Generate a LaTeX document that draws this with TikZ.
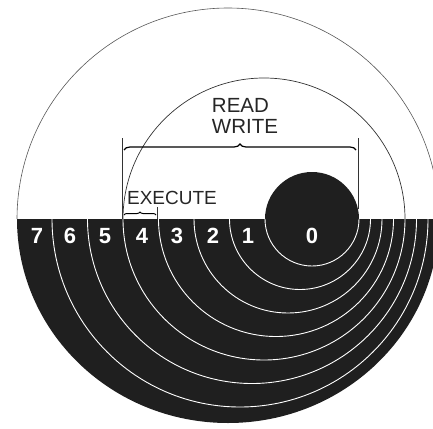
\documentclass[tikz,border=0pt]{standalone}
\usepackage{fontspec}
\setmainfont{Liberation Sans}
\usetikzlibrary{decorations.pathreplacing}
\begin{document}
\begin{tikzpicture}[x=1pt, y=-1pt,
    pista/.style={white, line width=0.9pt},
    num/.style={white, font=\fontsize{22}{22}\selectfont\bfseries},
    rotulo/.style={black!85, font=\fontsize{20.5}{21}\selectfont}]
    \useasboundingbox (0,0) rectangle (433,428);

    % Mitad inferior y pista 0
    \fill[black!88] (17,219) arc[start angle=180, end angle=360, x radius=211pt, y radius=204pt] -- cycle;
    \fill[black!88] (312,219) circle[radius=47pt];

    % Bordes de las pistas
    \draw[pista] (265,219) arc[start angle=180, end angle=360, radius=47pt];
    \draw[pista] (229.5,219) arc[start angle=180, end angle=360, radius=70.5pt];
    \draw[pista] (194,219) arc[start angle=180, end angle=360, radius=94pt];
    \draw[pista] (158.5,219) arc[start angle=180, end angle=360, radius=117.5pt];
    \draw[pista] (123,219) arc[start angle=180, end angle=360, radius=141pt];
    \draw[pista] (87.5,219) arc[start angle=180, end angle=360, radius=164.5pt];
    \draw[pista] (52,219) arc[start angle=180, end angle=360, radius=188pt];

    % Arcos superiores
    \draw[black!65, line width=0.6pt] (17,219) arc[start angle=180, end angle=0, radius=211pt];
    \draw[black!80, line width=0.7pt] (123,219) arc[start angle=180, end angle=0, radius=141pt];

    % Llaves
    \draw[black!80, line width=0.6pt] (122,138) -- (122,219);
    \draw[black!80, line width=0.6pt] (358,138) -- (358,209);
    \draw[decorate, decoration={brace, amplitude=6pt}, line width=1.2pt] (124,150) -- (356,150);
    \draw[black!80, line width=0.6pt] (157,207) -- (157,219);
    \draw[decorate, decoration={brace, amplitude=3pt}, line width=1pt] (124,215) -- (156,215);

    % Etiquetas
    \node[rotulo, align=left] (rw) at (245,116) {READ\\WRITE};
    \node[rotulo, font=\fontsize{19}{21}\selectfont] (ex) at (172,198) {EXECUTE};

    % Numeros de las pistas
    \node[num] (t7) at (37,236) {7};
    \node[num] (t6) at (70,236) {6};
    \node[num] (t5) at (105,236) {5};
    \node[num] (t4) at (142,236) {4};
    \node[num] (t3) at (177,236) {3};
    \node[num] (t2) at (213,236) {2};
    \node[num] (t1) at (248,236) {1};
    \node[num] (t0) at (312,236) {0};
\end{tikzpicture}
\end{document}
